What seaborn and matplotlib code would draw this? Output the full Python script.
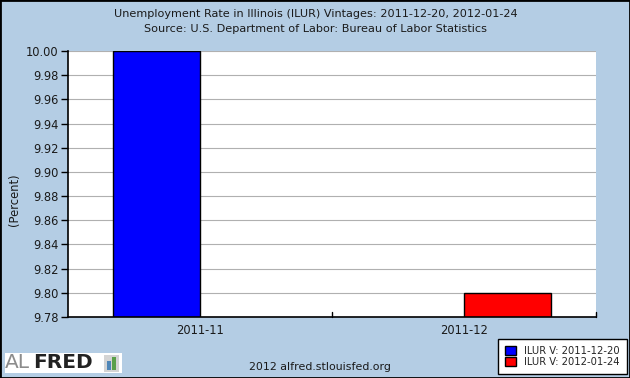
import pandas as pd
import numpy as np
import matplotlib
matplotlib.use("Agg")
import matplotlib.pyplot as plt
from matplotlib.patches import Patch, Rectangle
import seaborn as sns

# data
months = ["2011-11", "2011-12"]
vintages = ["ILUR V: 2011-12-20", "ILUR V: 2012-01-24"]
vintage_1220 = [10.00, np.nan]
vintage_0124 = [np.nan, 9.80]
y_ticks = [9.78, 9.80, 9.82, 9.84, 9.86, 9.88, 9.90, 9.92, 9.94, 9.96, 9.98, 10.00]

bg = "#b4cde4"
colors = ["#0000ff", "#ff0000"]
txt = "#1a1a1a"

df = pd.DataFrame({
    "month": months * 2,
    "vintage": [vintages[0]] * 2 + [vintages[1]] * 2,
    "value": vintage_1220 + vintage_0124,
})

sns.set_theme(style="white")
plt.rcParams["font.family"] = ["DejaVu Sans"]

fig = plt.figure(figsize=(6.3, 3.78), dpi=100, facecolor=bg)
ax = fig.add_axes([68 / 630, 1 - 317 / 378, 528 / 630, 266 / 378])
ax.set_facecolor("white")

sns.barplot(data=df, x="month", y="value", hue="vintage", hue_order=vintages,
            palette=colors, width=0.657, edgecolor="black", linewidth=1,
            saturation=1, ax=ax, legend=False)

ax.set_ylim(9.78, 10.00)
ax.set_yticks(y_ticks)
ax.set_yticklabels([f"{t:.2f}" for t in y_ticks], fontsize=8.3, color=txt)
ax.set_xlim(-0.5, 1.5)
ax.set_xticks([0, 1])
ax.set_xticklabels(months, fontsize=8.3, color=txt)
ax.tick_params(axis="x", length=0, pad=5)
ax.tick_params(axis="y", length=5, width=1, color="black", direction="out", pad=2, left=True)
for t in [0.5, 1.5]:
    ax.plot([t, t], [0, 0.02], transform=ax.get_xaxis_transform(),
            color="black", lw=1, clip_on=False)
ax.grid(axis="y", color="#b0b0b0", lw=0.8)
ax.set_axisbelow(True)
for side in ["top", "right"]:
    ax.spines[side].set_visible(False)
for side in ["left", "bottom"]:
    ax.spines[side].set_color("black")
    ax.spines[side].set_linewidth(1.2)
ax.set_xlabel("")
ax.set_ylabel("")
fig.text(14 / 630, 1 - 200 / 378, "(Percent)", rotation=90, ha="center", va="center",
         fontsize=8.3, color=txt)

fig.text(316 / 630, 1 - 14 / 378, "Unemployment Rate in Illinois (ILUR) Vintages: 2011-12-20, 2012-01-24",
         ha="center", va="center", fontsize=8.1, color=txt)
fig.text(316 / 630, 1 - 29 / 378, "Source: U.S. Department of Labor: Bureau of Labor Statistics",
         ha="center", va="center", fontsize=8.1, color=txt)
fig.text(320 / 630, 1 - 367 / 378, "2012 alfred.stlouisfed.org",
         ha="center", va="center", fontsize=7.9, color=txt)

# ALFRED logo box
fig.patches.append(Rectangle((5 / 630, 1 - 373 / 378), 117 / 630, 20 / 378,
                             transform=fig.transFigure, facecolor="white", edgecolor="none"))
fig.text(5 / 630, 1 - 363 / 378, "AL", ha="left", va="center", fontsize=14.5, color="#8c8c8c")
fig.text(33 / 630, 1 - 363 / 378, "FRED", ha="left", va="center", fontsize=14.5,
         color="#222222", fontweight="bold")
fig.patches.append(Rectangle((104 / 630, 1 - 372 / 378), 15 / 630, 17 / 378,
                             transform=fig.transFigure, facecolor="#d4d4d4", edgecolor="none"))
for x0, h, c in [(107, 9, "#4f86b8"), (112, 13, "#5aa04a")]:
    fig.patches.append(Rectangle((x0 / 630, 1 - 370 / 378), 4 / 630, h / 378,
                                 transform=fig.transFigure, facecolor=c, edgecolor="none"))

# legend
handles = [Patch(facecolor=c, edgecolor="black", lw=1) for c in colors]
leg = fig.legend(handles, vintages, loc="lower right", bbox_to_anchor=(627 / 630, 4 / 378),
                 fontsize=7.2, frameon=True, fancybox=False, edgecolor="black",
                 handlelength=1.1, handleheight=1.0, handletextpad=0.8,
                 borderpad=0.7, labelspacing=0.1, framealpha=1, borderaxespad=0)
leg.get_frame().set_linewidth(1)

# outer border
fig.patches.append(Rectangle((0, 0), 1, 1, transform=fig.transFigure,
                             facecolor="none", edgecolor="black", lw=2))

fig.savefig("out.png", dpi=100, facecolor=bg)
